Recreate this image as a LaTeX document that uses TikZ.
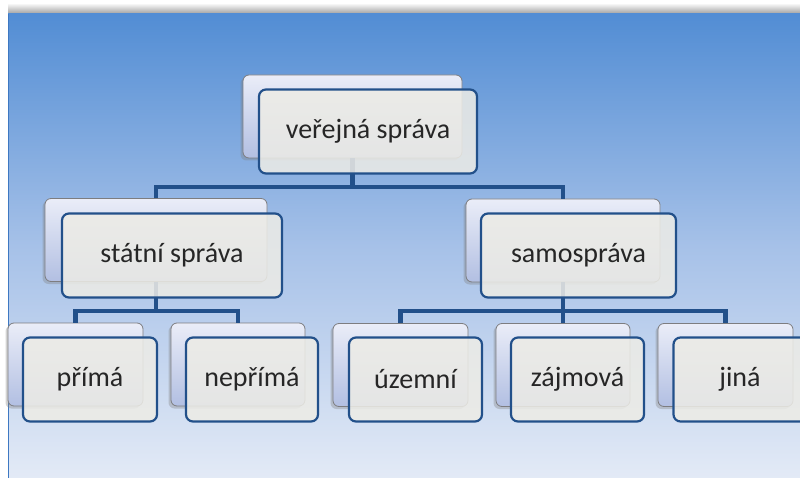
\documentclass[tikz,border=0pt]{standalone}
\usepackage{fontspec}
\setmainfont{Carlito}
\usetikzlibrary{shadows}

\definecolor{bgtop}{HTML}{528DD4}
\definecolor{bgmid}{HTML}{A6C1E8}
\definecolor{bgbot}{HTML}{E3EAF6}
\definecolor{bgedge}{HTML}{3E78C2}
\definecolor{linkblue}{HTML}{22508A}
\definecolor{backtop}{HTML}{EAEDF8}
\definecolor{backbot}{HTML}{B2BFE2}
\definecolor{boxgrey}{HTML}{7D7D80}
\definecolor{frontfill}{HTML}{EDECE6}
\definecolor{textgrey}{HTML}{262626}

\tikzset{
  backbox/.style={draw=boxgrey, line width=0.8pt, rounded corners=6pt,
    top color=backtop, bottom color=backbot, minimum height=83pt,
    drop shadow={shadow xshift=-2.5pt, shadow yshift=-2.5pt, opacity=0.35}},
  frontbox/.style={draw=linkblue, line width=2.2pt, rounded corners=7pt,
    fill=frontfill, fill opacity=0.86, text opacity=1, minimum height=84pt,
    text=textgrey, font=\fontsize{28}{30}\selectfont},
  link/.style={draw=linkblue, line width=4.6pt}
}

\begin{document}
\begin{tikzpicture}[x=1pt,y=-1pt]
		\useasboundingbox (0,0) rectangle (800,478);
		\clip (0,0) rectangle (800,478);
		% background
		\shade[top color=white, bottom color=black!38] (8,3) rectangle (800,14);
		\shade[top color=bgtop, bottom color=bgbot, middle color=bgmid] (8,14) rectangle (800,478);
		\draw[bgedge, line width=1pt] (8,14) -- (8,478);
		\coordinate (busA) at (0,187);
		\coordinate (busB) at (0,311);
		% back boxes
		\node[backbox, minimum width=219pt] (verejnaB) at (352.5,116.5) {};
		\node[backbox, minimum width=222pt] (statniB) at (156,240) {};
		\node[backbox, minimum width=194pt] (samoB) at (563,240.5) {};
		\node[backbox, minimum width=135pt] (primaB) at (75.5,364.5) {};
		\node[backbox, minimum width=134pt] (neprimaB) at (238,364.5) {};
		\node[backbox, minimum width=135pt] (uzemniB) at (400.5,365) {};
		\node[backbox, minimum width=134pt] (zajmovaB) at (563,365) {};
		\node[backbox, minimum width=135pt] (jinaB) at (725.5,365) {};
		% connectors
		\draw[link] (verejnaB.south) -- (verejnaB.south |- busA);
		\draw[link] (statniB.north) |- (verejnaB.south |- busA) -| (samoB.north);
		\draw[link] (statniB.south) -- (statniB.south |- busB);
		\draw[link] (primaB.north) |- (statniB.south |- busB) -| (neprimaB.north);
		\draw[link] (samoB.south) -- (samoB.south |- busB);
		\draw[link] (uzemniB.north) |- (samoB.south |- busB) -| (jinaB.north);
		\draw[link] (zajmovaB.north) -- (zajmovaB.north |- busB);
		% front boxes
		\node[frontbox, minimum width=218pt] (verejna) at (368,131.5) {veřejná správa};
		\node[frontbox, minimum width=220pt] (statni) at (172,255.5) {státní správa};
		\node[frontbox, minimum width=195pt] (samo) at (578.5,255.5) {samospráva};
		\node[frontbox, minimum width=134pt] (prima) at (90,379.5) {přímá};
		\node[frontbox, minimum width=132pt] (neprima) at (252,379.5) {nepřímá};
		\node[frontbox, minimum width=133pt] (uzemni) at (415.5,379.5) {územní};
		\node[frontbox, minimum width=133pt] (zajmova) at (577.5,379.5) {zájmová};
		\node[frontbox, minimum width=133pt] (jina) at (740,379.5) {jiná};
\end{tikzpicture}
\end{document}
